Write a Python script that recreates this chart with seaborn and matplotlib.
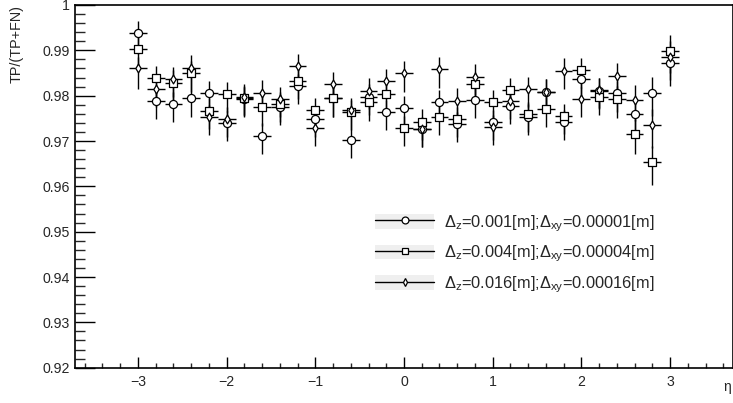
import numpy as np
import pandas as pd
import seaborn as sns
import matplotlib.pyplot as plt
from matplotlib.lines import Line2D
from matplotlib.patches import Patch
from matplotlib.ticker import MultipleLocator, FuncFormatter

# eta bin centres
eta = [-3.0, -2.8, -2.6, -2.4, -2.2, -2.0, -1.8, -1.6, -1.4, -1.2, -1.0,
       -0.8, -0.6, -0.4, -0.2, 0.0, 0.2, 0.4, 0.6, 0.8, 1.0, 1.2, 1.4,
       1.6, 1.8, 2.0, 2.2, 2.4, 2.6, 2.8, 3.0]

# efficiency TP/(TP+FN) for each tolerance setting
eff_001 = [0.9938, 0.9788, 0.9781, 0.9794, 0.9805, 0.9740, 0.9793, 0.9712,
           0.9776, 0.9821, 0.9749, 0.9794, 0.9702, 0.9798, 0.9764, 0.9773,
           0.9726, 0.9785, 0.9738, 0.9791, 0.9742, 0.9778, 0.9754, 0.9809,
           0.9742, 0.9837, 0.9811, 0.9805, 0.9760, 0.9806, 0.9872]
eff_004 = [0.9903, 0.9838, 0.9829, 0.9849, 0.9767, 0.9804, 0.9795, 0.9774,
           0.9782, 0.9833, 0.9768, 0.9794, 0.9764, 0.9785, 0.9803, 0.9729,
           0.9743, 0.9754, 0.9748, 0.9826, 0.9785, 0.9812, 0.9760, 0.9771,
           0.9755, 0.9857, 0.9797, 0.9793, 0.9716, 0.9653, 0.9899]
eff_016 = [0.9860, 0.9815, 0.9836, 0.9862, 0.9753, 0.9748, 0.9798, 0.9807,
           0.9793, 0.9866, 0.9728, 0.9825, 0.9768, 0.9811, 0.9832, 0.9849,
           0.9726, 0.9858, 0.9789, 0.9842, 0.9731, 0.9789, 0.9814, 0.9809,
           0.9855, 0.9793, 0.9813, 0.9843, 0.9790, 0.9735, 0.9885]

# asymmetric (Clopper-Pearson like) uncertainties
err_up = [0.0026, 0.0027, 0.0027, 0.0027, 0.0027, 0.0027, 0.0027, 0.0027,
          0.0027, 0.0027, 0.0027, 0.0027, 0.0027, 0.0027, 0.0027, 0.0027,
          0.0027, 0.0027, 0.0027, 0.0027, 0.0027, 0.0027, 0.0027, 0.0027,
          0.0027, 0.0027, 0.0027, 0.0028, 0.0033, 0.0035, 0.0035]
err_lo = [0.0045, 0.0040, 0.0040, 0.0040, 0.0040, 0.0040, 0.0040, 0.0040,
          0.0040, 0.0040, 0.0040, 0.0040, 0.0040, 0.0040, 0.0040, 0.0040,
          0.0040, 0.0040, 0.0040, 0.0040, 0.0040, 0.0040, 0.0040, 0.0040,
          0.0040, 0.0040, 0.0040, 0.0042, 0.0045, 0.0050, 0.0050]

labels = [r'$\Delta_{\mathrm{z}}$=0.001[m];$\Delta_{\mathrm{xy}}$=0.00001[m]',
          r'$\Delta_{\mathrm{z}}$=0.004[m];$\Delta_{\mathrm{xy}}$=0.00004[m]',
          r'$\Delta_{\mathrm{z}}$=0.016[m];$\Delta_{\mathrm{xy}}$=0.00016[m]']
markers = ['o', 's', 'd']
sizes = [34, 28, 20]

sns.set_theme(style='ticks')
plt.rcParams['font.family'] = ['Liberation Sans', 'DejaVu Sans']
plt.rcParams['mathtext.fontset'] = 'custom'
plt.rcParams['mathtext.rm'] = 'Liberation Sans'
plt.rcParams['mathtext.it'] = 'Liberation Sans:italic'
plt.rcParams['axes.unicode_minus'] = True

fig = plt.figure(figsize=(7.33, 4.03), dpi=100)
ax = fig.add_axes([75 / 733, 35.3 / 403, 658 / 733, 362.7 / 403])

frames = []
for lab, vals in zip(labels, [eff_001, eff_004, eff_016]):
    frames.append(pd.DataFrame({'eta': eta, 'eff': vals, 'series': lab}))
df = pd.concat(frames, ignore_index=True)

# error bars first, markers drawn on top with white fill
for vals in [eff_001, eff_004, eff_016]:
    ax.errorbar(eta, vals, xerr=0.1, yerr=[err_lo, err_up], fmt='none',
                ecolor='black', elinewidth=1.0, capsize=0, zorder=2)

for lab, mk, sz in zip(labels, markers, sizes):
    sns.scatterplot(data=df[df['series'] == lab], x='eta', y='eff',
                    marker=mk, s=sz, facecolor='white', edgecolor='black',
                    linewidth=0.9, ax=ax, zorder=3, legend=False)

ax.set_xlim(-3.71, 3.71)
ax.set_ylim(0.92, 1.0)
ax.set_xlabel('')
ax.set_ylabel('')

ax.xaxis.set_major_locator(MultipleLocator(1))
ax.xaxis.set_minor_locator(MultipleLocator(0.2))
ax.yaxis.set_major_locator(MultipleLocator(0.01))
ax.yaxis.set_minor_locator(MultipleLocator(0.002))
ax.yaxis.set_major_formatter(FuncFormatter(lambda v, p: '%g' % round(v, 3)))
ax.xaxis.set_major_formatter(FuncFormatter(lambda v, p: ('%g' % v).replace('-', '\u2212')))

ax.tick_params(axis='x', which='major', direction='in', length=7.9, width=1,
               labelsize=10.2, pad=5, color='black')
ax.tick_params(axis='x', which='minor', direction='in', length=3.8, width=1)
ax.tick_params(axis='y', which='major', direction='in', length=14.4, width=1,
               labelsize=10.2, pad=4, color='black')
ax.tick_params(axis='y', which='minor', direction='in', length=7.2, width=1)
for s in ax.spines.values():
    s.set_color('black')
    s.set_linewidth(1.2)

fig.text(17 / 733, 398 / 403, 'TP/(TP+FN)', rotation=90, ha='center',
         va='top', fontsize=10.4)
fig.text(723 / 733, 16 / 403, '\u03b7', ha='left', va='center', fontsize=10)

handles = []
for mk, sz in zip(markers, sizes):
    line = Line2D([], [], color='black', lw=1.0, marker=mk,
                  markersize=np.sqrt(sz) * 0.85, markerfacecolor='white',
                  markeredgecolor='black', markeredgewidth=0.9)
    box = Patch(facecolor='#efefef', edgecolor='none')
    handles.append((box, line))

ax.legend(handles, labels, loc='upper left',
          bbox_to_anchor=((375 - 75) / 658, (367.7 - 213) / 362.7),
          frameon=False, fontsize=11.8, handlelength=3.6, handleheight=1.0,
          handletextpad=0.62, labelspacing=0.62, borderpad=0, borderaxespad=0)

fig.savefig('out.png', dpi=100)
